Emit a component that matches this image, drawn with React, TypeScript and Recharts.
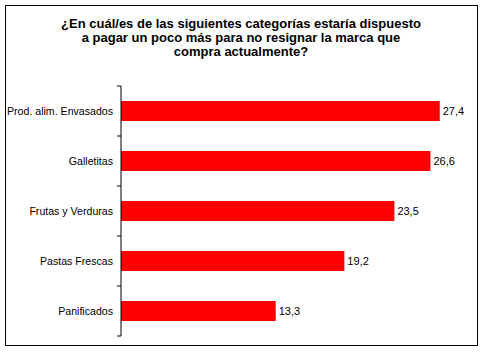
import React from 'react';
import { BarChart, Bar, XAxis, YAxis, LabelList } from 'recharts';

const categories = ['Prod. alim. Envasados', 'Galletitas', 'Frutas y Verduras', 'Pastas Frescas', 'Panificados'];
const values = [27.4, 26.6, 23.5, 19.2, 13.3];
const titleLines = [
  '¿En cuál/es de las siguientes categorías estaría dispuesto',
  'a pagar un poco más para no resignar la marca que',
  'compra actualmente?',
];

const data = categories.map((name, i) => ({ name, value: values[i] }));

const W = 485;
const H = 352;
const MARGIN = { top: 86, right: 15, bottom: 16, left: 0 };
const AXIS_W = 121;
const HALF_BAND = (H - MARGIN.top - MARGIN.bottom) / categories.length / 2;
const FONT = '"Liberation Sans", Arial, sans-serif';

const CategoryTick: React.FC<any> = ({ y, payload, index, visibleTicksCount }) => {
  const axisX = MARGIN.left + AXIS_W;
  const last = index === visibleTicksCount - 1;
  return (
    <g>
      <line x1={axisX - 4} x2={axisX} y1={y - HALF_BAND} y2={y - HALF_BAND} stroke="#000" />
      {last && <line x1={axisX - 4} x2={axisX} y1={y + HALF_BAND} y2={y + HALF_BAND} stroke="#000" />}
      <text x={axisX - 8} y={y} dy="0.355em" textAnchor="end" fontSize={10.6} fill="#000" fontFamily={FONT}>
        {payload.value}
      </text>
    </g>
  );
};

const App: React.FC = () => {
  return (
    <div style={{ position: 'absolute', left: 0, top: 0, width: W, height: H, background: '#fff', fontFamily: FONT }}>
      <div
        style={{
          position: 'absolute',
          left: 5,
          top: 5,
          width: 473,
          height: 341,
          border: '1px solid #000',
          boxSizing: 'border-box',
        }}
      />
      <div
        style={{
          position: 'absolute',
          left: 5,
          top: 17,
          width: 472,
          textAlign: 'center',
          fontSize: 13,
          fontWeight: 'bold',
          lineHeight: '14px',
          color: '#000',
        }}
      >
        {titleLines.map((t) => (
          <div key={t}>{t}</div>
        ))}
      </div>
      <div style={{ position: 'absolute', left: 0, top: 0 }}>
        <BarChart width={W} height={H} data={data} layout="vertical" margin={MARGIN}>
          <XAxis type="number" domain={[0, 30]} hide />
          <YAxis
            type="category"
            dataKey="name"
            width={AXIS_W}
            axisLine={{ stroke: '#000' }}
            tickLine={false}
            tick={<CategoryTick />}
            interval={0}
          />
          <Bar dataKey="value" fill="#FF0000" barSize={20} isAnimationActive={false}>
            <LabelList
              dataKey="value"
              position="right"
              offset={3}
              fontSize={11}
              fill="#000"
              fontFamily={FONT}
              formatter={(v: any) => String(v).replace('.', ',')}
            />
          </Bar>
        </BarChart>
      </div>
    </div>
  );
};

export default App;
